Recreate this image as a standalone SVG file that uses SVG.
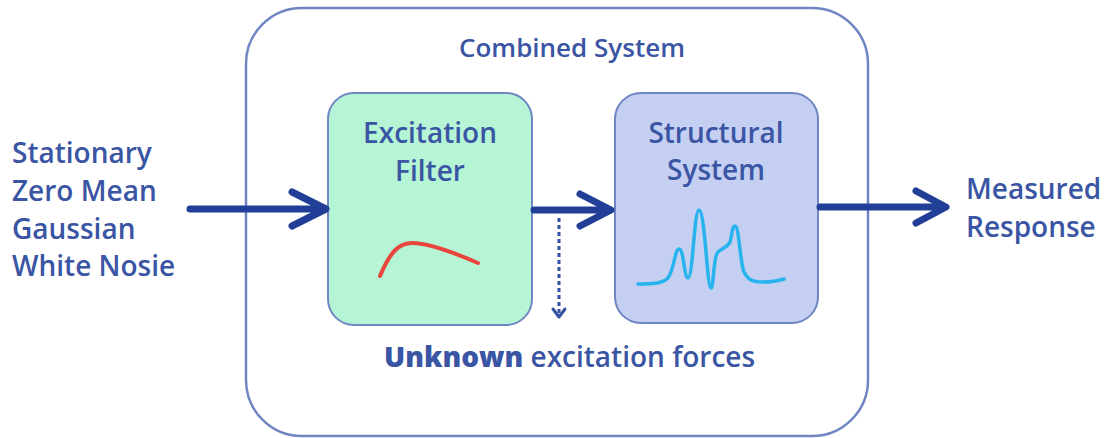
<svg xmlns="http://www.w3.org/2000/svg" width="1108" height="438" viewBox="0 0 1108 438">
<style>
text{font-family:"Open Sans","Noto Sans","Liberation Sans",sans-serif;fill:#3a55a3;font-weight:600;}
.lbl{font-size:28px;}
.box{font-size:28px;}
.ttl{font-size:26px;}
.arrow{fill:none;stroke:#213f97;stroke-width:7;stroke-linecap:round;stroke-linejoin:round;}
.dash{fill:none;stroke:#3551a1;stroke-width:3;stroke-dasharray:4,3;}
</style>
<rect width="1108" height="438" fill="#ffffff"/>
<g id="combined">
<rect x="246" y="8" width="622" height="428" rx="56" ry="56" fill="#ffffff" stroke="#6f86c2" stroke-width="2.5"/>
<text class="ttl" x="572" y="57" text-anchor="middle">Combined System</text>
</g>
<g id="input">
<text class="lbl" x="12" y="163">Stationary</text>
<text class="lbl" x="12" y="201">Zero Mean</text>
<text class="lbl" x="12" y="239">Gaussian</text>
<text class="lbl" x="12" y="276">White Nosie</text>
</g>
<g id="output">
<text class="lbl" x="966" y="199">Measured</text>
<text class="lbl" x="966" y="237">Response</text>
</g>
<g id="excitation-filter">
<rect x="328" y="93" width="204" height="232" rx="26" ry="26" fill="#b5f5d6" stroke="#6f86c2" stroke-width="2"/>
<text class="box" x="430" y="143" text-anchor="middle">Excitation</text>
<text class="box" x="430" y="181" text-anchor="middle">Filter</text>
<path d="M380,276 C390,252 399,243 412,243 C430,243 455,253 478,263" fill="none" stroke="#e8463c" stroke-width="4" stroke-linecap="round"/>
</g>
<g id="structural-system">
<rect x="615" y="93" width="203" height="230" rx="26" ry="26" fill="#c4cff2" stroke="#6f86c2" stroke-width="2"/>
<text class="box" x="716" y="143" text-anchor="middle">Structural</text>
<text class="box" x="716" y="180" text-anchor="middle">System</text>
<path d="M638,284 C650,284 662,284 668,278 C674,270 675,249 679,249 C684,249 684,278 688,278 C693,278 694,210 699,210 C705,210 707,288 711,288 C714,288 713,256 718,252 C722,248 727,248 730,242 C732,236 732,226 735,226 C739,226 740,262 744,272 C748,280 753,282 762,282 C772,282 778,281 784,279" fill="none" stroke="#26b3ee" stroke-width="3.5" stroke-linecap="round" stroke-linejoin="round"/>
</g>
<g id="unknown-forces">
<text class="lbl" x="384" y="367"><tspan font-weight="800">Unknown</tspan> excitation forces</text>
</g>
<g id="connectors">
<path class="arrow" d="M190,209 L323,209 M292,192 L326,209 L292,226"/>
<path class="arrow" d="M534,210 L608,210 M580,194 L611,210 L580,226"/>
<path class="arrow" d="M820,207 L943,207 M916,191 L946,207 L916,223"/>
<path class="dash" d="M559,218 L559,316"/>
<path d="M553,309 L559,317 L565,309" fill="none" stroke="#3551a1" stroke-width="3" stroke-linecap="round" stroke-linejoin="round"/>
</g>
</svg>
